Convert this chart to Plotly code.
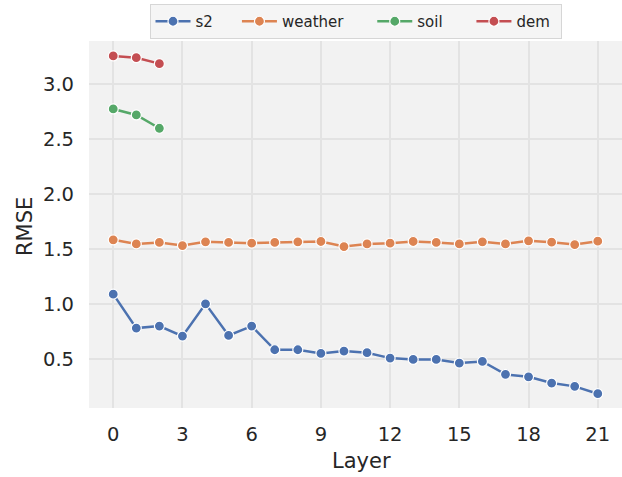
import plotly.graph_objects as go

layers_s2 = list(range(22))
s2 = [1.091, 0.782, 0.800, 0.709, 1.003, 0.715, 0.800, 0.585, 0.585, 0.552, 0.573,
      0.558, 0.509, 0.497, 0.497, 0.464, 0.479, 0.361, 0.339, 0.282, 0.252, 0.185]
layers_weather = list(range(22))
weather = [1.585, 1.548, 1.561, 1.533, 1.567, 1.561, 1.555, 1.561, 1.567, 1.570, 1.524,
           1.548, 1.555, 1.570, 1.561, 1.548, 1.567, 1.548, 1.576, 1.564, 1.542, 1.573]
layers_soil = [0, 1, 2]
soil = [2.776, 2.721, 2.600]
layers_dem = [0, 1, 2]
dem = [3.258, 3.242, 3.188]

x_ticks = [0, 3, 6, 9, 12, 15, 18, 21]
y_ticks = [0.5, 1.0, 1.5, 2.0, 2.5, 3.0]

NB = "\u00a0"
series = [
    ("s2", layers_s2, s2, "#4C72B0", 4),
    ("weather", layers_weather, weather, "#DD8452", 5),
    ("soil", layers_soil, soil, "#55A868", 5),
    ("dem", layers_dem, dem, "#C44E52", 1),
]

fig = go.Figure()
for name, xs, ys, col, pad in series:
    fig.add_trace(go.Scatter(
        x=xs, y=ys, name=name + NB * pad, mode="lines+markers",
        line=dict(color=col, width=2.5),
        marker=dict(color=col, size=10, line=dict(color="white", width=1.2)),
    ))

font = "DejaVu Sans"
fig.update_layout(
    width=622, height=477,
    margin=dict(l=89, r=0, t=41, b=69, autoexpand=False),
    paper_bgcolor="white", plot_bgcolor="#f2f2f2",
    font=dict(family=font, color="#262626"),
    showlegend=True,
    legend=dict(
        orientation="h", xref="paper", x=0.5, xanchor="center",
        yref="container", y=1 - 4 / 477, yanchor="top",
        bgcolor="#f5f5f5", bordercolor="#d6d6d6", borderwidth=1,
        itemwidth=35,
        font=dict(size=15, family=font, color="#262626"),
    ),
    annotations=[
        dict(text="Layer", xref="paper", yref="paper", x=(361 - 89) / 533,
             y=(408 - 461) / 367, xanchor="center", yanchor="middle",
             showarrow=False, font=dict(size=21, family=font, color="#262626")),
        dict(text="RMSE", xref="paper", yref="paper", x=(25 - 89) / 533,
             y=(408 - 227) / 367, xanchor="center", yanchor="middle",
             textangle=-90, showarrow=False,
             font=dict(size=21, family=font, color="#262626")),
    ],
)
fig.update_xaxes(
    range=[-1.05, 22.05], tickvals=x_ticks, ticktext=[str(t) for t in x_ticks],
    showgrid=True, gridcolor="#e3e3e3", gridwidth=1.5, zeroline=False,
    showline=False, tickfont=dict(size=19.5), ticklabelstandoff=12,
    automargin=False,
)
fig.update_yaxes(
    range=[0.055, 3.394], tickvals=y_ticks, ticktext=[f"{t:.1f}" for t in y_ticks],
    showgrid=True, gridcolor="#e3e3e3", gridwidth=1.5, zeroline=False,
    showline=False, tickfont=dict(size=19.5), ticklabelstandoff=14,
    automargin=False,
)

fig.write_html(
    "out.html",
    config={"displayModeBar": False},
    post_script="document.body.style.margin='0';document.body.style.padding='0';",
)
